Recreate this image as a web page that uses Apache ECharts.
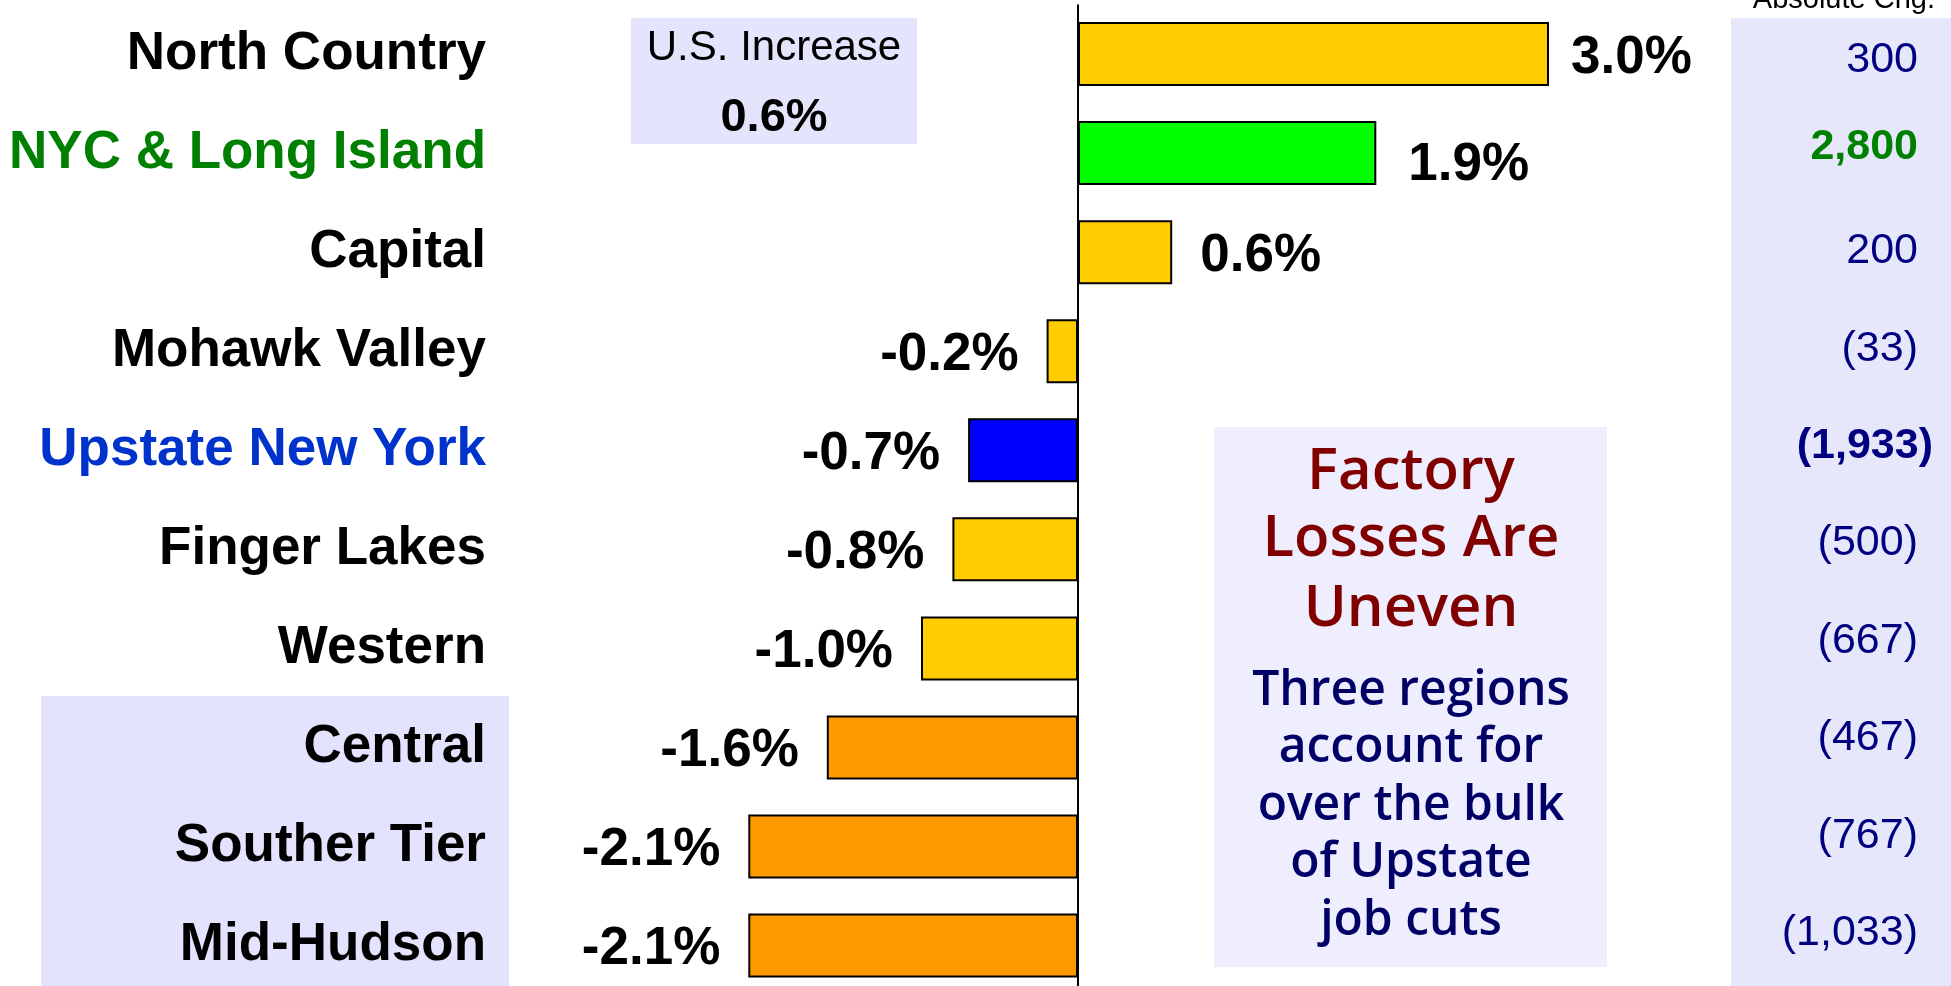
<!DOCTYPE html>
<html>
<head>
<meta charset="utf-8">
<script src="https://cdn.jsdelivr.net/npm/echarts@6/dist/echarts.min.js"></script>
<style>html,body{margin:0;padding:0;background:#fff;overflow:hidden;}#c{width:1951px;height:996px;}</style>
</head>
<body>
<div id="c"></div>
<script>
// ---- data ----
const regions = ['North Country','NYC & Long Island','Capital','Mohawk Valley','Upstate New York','Finger Lakes','Western','Central','Souther Tier','Mid-Hudson'];
const pctChange = [3.0, 1.9, 0.6, -0.2, -0.7, -0.8, -1.0, -1.6, -2.1, -2.1];
const absChange = ['300','2,800','200','(33)','(1,933)','(500)','(667)','(467)','(767)','(1,033)'];
const barColors = ['#FFCC00','#00FF00','#FFCC00','#FFCC00','#0000FF','#FFCC00','#FFCC00','#FF9900','#FF9900','#FF9900'];
const labelColors = ['#000','#008000','#000','#000','#0033CC','#000','#000','#000','#000','#000'];
const usIncrease = '0.6%';

const FONT = '"Liberation Sans", Arial, sans-serif';
const chart = echarts.init(document.getElementById('c'));

const barData = pctChange.map((v, i) => ({
  value: v,
  itemStyle: { color: barColors[i] },
  label: {
    position: v >= 0 ? 'right' : 'left',
    distance: i === 0 ? 22 : (i === 1 ? 32 : 28),
    offset: i === 1 ? [0, 12] : [0, 4]
  }
}));

const absData = absChange.map((v, i) => {
  const ts = { padding: [0, 15, 0, 0] };
  if (i === 0) { ts.verticalAlign = 'top'; ts.lineHeight = 6; }
  if (i === 1) { ts.color = '#008000'; ts.fontWeight = 'bold'; ts.verticalAlign = 'bottom'; ts.lineHeight = 14; }
  if (i === 4) { ts.fontWeight = 'bold'; ts.padding = [0, 0, 0, 0]; }
  return { value: v, textStyle: ts };
});

const factoryTitle = ['Factory', 'Losses Are', 'Uneven'];
const factoryBody = ['Three regions', 'account for', 'over the bulk', 'of Upstate', 'job cuts'];

const graphics = [
  { type: 'rect', z: -10, shape: { x: 1731, y: 18, width: 220, height: 980 }, style: { fill: '#E7E7FC' } },
  { type: 'rect', z: -10, shape: { x: 41, y: 696, width: 468, height: 300 }, style: { fill: '#E3E3FD' } },
  { type: 'rect', z: -10, shape: { x: 631, y: 18, width: 286, height: 126 }, style: { fill: '#E4E4FC' } },
  { type: 'rect', z: -10, shape: { x: 1214, y: 427, width: 393, height: 540 }, style: { fill: '#EEEEFE' } },
  { type: 'text', z: 10, style: { text: 'Absolute Chg.', x: 1935, y: 0, textAlign: 'right', textVerticalAlign: 'middle', font: '29px ' + FONT, fill: '#000' } },
  { type: 'text', z: 10, style: { text: 'U.S. Increase', x: 774, y: 48, textAlign: 'center', textVerticalAlign: 'middle', font: '42px ' + FONT, fill: '#000' } },
  { type: 'text', z: 10, style: { text: usIncrease, x: 774, y: 118, textAlign: 'center', textVerticalAlign: 'middle', font: 'bold 47px ' + FONT, fill: '#000' } }
];
const titleY = [472, 539, 609];
factoryTitle.forEach((t, i) => graphics.push({ type: 'text', z: 10, style: { text: t, x: 1411, y: titleY[i], textAlign: 'center', textVerticalAlign: 'middle', font: '600 58px "Open Sans", sans-serif', fill: '#800000' } }));
factoryBody.forEach((t, i) => graphics.push({ type: 'text', z: 10, style: { text: t, x: 1411, y: 691 + i * 57.5, textAlign: 'center', textVerticalAlign: 'middle', font: '600 48px "Open Sans", sans-serif', fill: '#000066' } }));

chart.setOption({
  animation: false,
  backgroundColor: '#fff',
  graphic: graphics,
  grid: [
    { left: 607, width: 942, top: 4.5, height: 990.6 },
    { left: 1933, width: 10, top: 8, height: 973.7 }
  ],
  xAxis: [
    { type: 'value', gridIndex: 0, min: -3, max: 3, show: false },
    { type: 'value', gridIndex: 1, min: 0, max: 1, show: false }
  ],
  yAxis: [
    {
      type: 'category', gridIndex: 0, inverse: true, data: regions,
      axisLine: { show: false }, axisTick: { show: false }, splitLine: { show: false },
      axisLabel: { margin: 121, fontFamily: FONT, fontSize: 53, fontWeight: 'bold', padding: [8, 0, 0, 0], color: (v, i) => labelColors[i] }
    },
    {
      type: 'category', gridIndex: 1, inverse: true, data: absData,
      axisLine: { show: false }, axisTick: { show: false }, splitLine: { show: false },
      axisLabel: { margin: 0, fontFamily: FONT, fontSize: 43, color: '#000080' }
    }
  ],
  series: [{
    type: 'bar', xAxisIndex: 0, yAxisIndex: 0, data: barData, barWidth: 64,
    itemStyle: { borderColor: '#000', borderWidth: 2 },
    label: { show: true, fontFamily: FONT, fontSize: 53, fontWeight: 'bold', color: '#000',
      formatter: p => p.value.toFixed(1) + '%' },
    markLine: { silent: true, symbol: 'none', label: { show: false },
      lineStyle: { color: '#000', width: 2, type: 'solid' }, data: [{ xAxis: 0 }] }
  }]
});
</script>
</body>
</html>
